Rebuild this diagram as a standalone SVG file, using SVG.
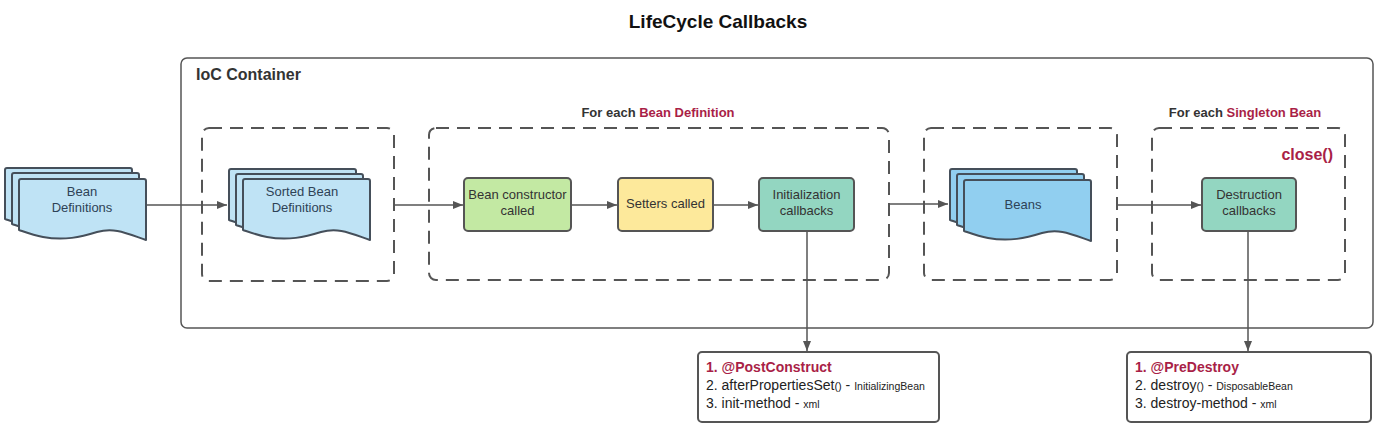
<svg xmlns="http://www.w3.org/2000/svg" width="1385" height="439" viewBox="0 0 1385 439">
<style>
text{font-family:"Liberation Sans",Arial,sans-serif;}
.title{font-size:19px;font-weight:bold;fill:#111;}
.lbl{font-size:13px;font-weight:bold;fill:#333;}
.red{fill:#a91f47;}
.node{stroke:#555;stroke-width:2;}
.t{font-size:13px;fill:#333;text-anchor:middle;}
.dt{font-size:13px;fill:#2e4256;text-anchor:middle;}
.dash{fill:none;stroke:#555;stroke-width:2;stroke-dasharray:13 8;}
.con{fill:none;stroke:#555;stroke-width:1.5;}
.info{fill:#fff;stroke:#555;stroke-width:2;}
.it{font-size:14px;fill:#222;}
.sm{font-size:10.5px;}
.par{font-size:11px;}
.doc{stroke:#454f5a;stroke-width:2;stroke-linejoin:round;}
</style>
<defs>
<marker id="ah" viewBox="0 0 10 10" refX="10" refY="5" markerWidth="10" markerHeight="10" markerUnits="userSpaceOnUse" orient="auto">
<path d="M0,1 L10,5 L0,9 Z" fill="#555"/>
</marker>
<path id="docshape" d="M2,0 H125 Q127,0 127,2 V61 C107,54 95,48 78,53 C62,58 45,62 24,58 C14,56 6,53 0,51 V2 Q0,0 2,0 Z"/>
</defs>
<rect width="1385" height="439" fill="#fff"/>
<text class="title" x="718" y="28" text-anchor="middle">LifeCycle Callbacks</text>

<g id="ioc-container">
<rect x="181" y="58" width="1192" height="270" rx="6" fill="#fff" stroke="#555" stroke-width="1.5"/>
<text x="196" y="80" font-size="16" font-weight="bold" fill="#333">IoC Container</text>
</g>

<g id="group-sorted"><rect class="dash" x="202" y="128" width="192" height="153" rx="7"/></g>
<g id="group-bean-definition">
<rect class="dash" x="429" y="128" width="460" height="152" rx="7"/>
<text class="lbl" x="658" y="117" text-anchor="middle">For each <tspan class="red">Bean Definition</tspan></text>
</g>
<g id="group-beans"><rect class="dash" x="924" y="128" width="193" height="152" rx="7"/></g>
<g id="group-singleton">
<rect class="dash" x="1152" y="128" width="193" height="152" rx="7"/>
<text class="lbl" x="1245" y="117" text-anchor="middle">For each <tspan class="red">Singleton Bean</tspan></text>
<text x="1333" y="160" font-size="16" font-weight="bold" text-anchor="end" class="red">close()</text>
</g>

<g id="bean-definitions">
<use href="#docshape" x="5" y="168" class="doc" fill="#bfe3f5"/>
<use href="#docshape" x="12" y="173" class="doc" fill="#bfe3f5"/>
<use href="#docshape" x="19" y="179" class="doc" fill="#bfe3f5"/>
<text class="dt" x="82" y="196">Bean</text>
<text class="dt" x="82" y="212">Definitions</text>
</g>

<g id="sorted-bean-definitions">
<use href="#docshape" x="229" y="169" class="doc" fill="#bfe3f5"/>
<use href="#docshape" x="236" y="174" class="doc" fill="#bfe3f5"/>
<use href="#docshape" x="243" y="179" class="doc" fill="#bfe3f5"/>
<text class="dt" x="302" y="196">Sorted Bean</text>
<text class="dt" x="302" y="212">Definitions</text>
</g>

<g id="bean-constructor">
<rect class="node" x="464" y="178" width="107" height="53" rx="4" fill="#c3e9a3"/>
<text class="t" x="517.5" y="199">Bean constructor</text>
<text class="t" x="517.5" y="215">called</text>
</g>
<g id="setters-called">
<rect class="node" x="618" y="178" width="95" height="53" rx="4" fill="#fde99b"/>
<text class="t" x="665.5" y="208">Setters called</text>
</g>
<g id="initialization-callbacks">
<rect class="node" x="759" y="178" width="95" height="53" rx="4" fill="#93d6c1"/>
<text class="t" x="806.5" y="199">Initialization</text>
<text class="t" x="806.5" y="215">callbacks</text>
</g>

<g id="beans">
<use href="#docshape" x="950" y="169" class="doc" fill="#91cff0"/>
<use href="#docshape" x="957" y="174" class="doc" fill="#91cff0"/>
<use href="#docshape" x="964" y="180" class="doc" fill="#91cff0"/>
<text class="dt" x="1023" y="209">Beans</text>
</g>

<g id="destruction-callbacks">
<rect class="node" x="1202" y="178" width="94" height="53" rx="4" fill="#93d6c1"/>
<text class="t" x="1249" y="199">Destruction</text>
<text class="t" x="1249" y="215">callbacks</text>
</g>

<g id="init-list">
<rect class="info" x="698" y="352" width="241" height="70" rx="4"/>
<text class="it" x="706" y="372" font-weight="bold" fill="#a91f47" style="fill:#a91f47">1. @PostConstruct</text>
<text class="it" x="706" y="390">2. afterPropertiesSet<tspan class="par">()</tspan> - <tspan class="sm">InitializingBean</tspan></text>
<text class="it" x="706" y="408">3. init-method - <tspan class="sm">xml</tspan></text>
</g>

<g id="destroy-list">
<rect class="info" x="1127" y="352" width="244" height="70" rx="4"/>
<text class="it" x="1135" y="372" font-weight="bold" style="fill:#a91f47">1. @PreDestroy</text>
<text class="it" x="1135" y="390">2. destroy<tspan class="par">()</tspan> - <tspan class="sm">DisposableBean</tspan></text>
<text class="it" x="1135" y="408">3. destroy-method - <tspan class="sm">xml</tspan></text>
</g>

<g id="connectors">
<line class="con" x1="147" y1="205" x2="227" y2="205" marker-end="url(#ah)"/>
<line class="con" x1="395" y1="205" x2="463" y2="205" marker-end="url(#ah)"/>
<line class="con" x1="572" y1="205" x2="617" y2="205" marker-end="url(#ah)"/>
<line class="con" x1="714" y1="205" x2="758" y2="205" marker-end="url(#ah)"/>
<line class="con" x1="890" y1="204" x2="948" y2="204" marker-end="url(#ah)"/>
<line class="con" x1="1118" y1="205" x2="1201" y2="205" marker-end="url(#ah)"/>
<line class="con" x1="807" y1="232" x2="807" y2="351" marker-end="url(#ah)"/>
<line class="con" x1="1248" y1="232" x2="1248" y2="351" marker-end="url(#ah)"/>
</g>
</svg>
